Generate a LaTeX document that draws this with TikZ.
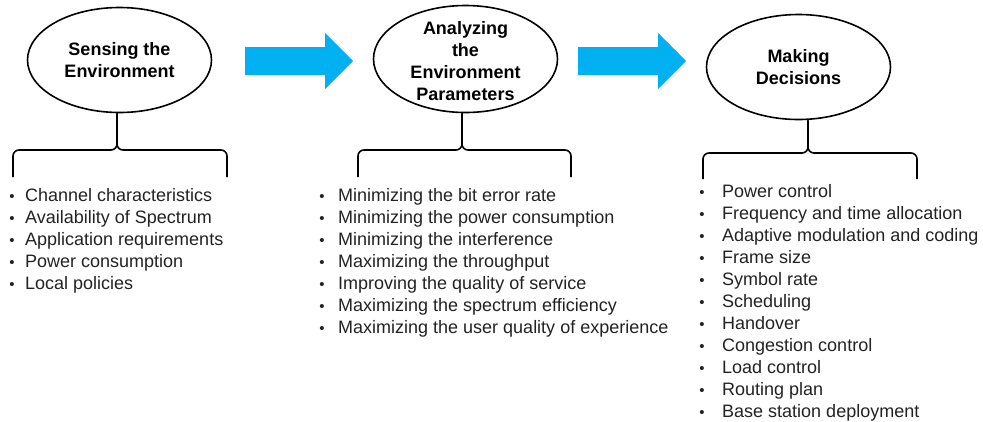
\documentclass[tikz,border=0pt]{standalone}
\usepackage{fontspec}
\setmainfont{Liberation Sans}
\usetikzlibrary{shapes.geometric}
\definecolor{arrowblue}{HTML}{00B0F0}
\definecolor{textdark}{HTML}{222222}
\begin{document}
\begin{tikzpicture}[x=1pt,y=-1pt,
  oval/.style={draw, ellipse, line width=1.6pt, minimum width=184pt, minimum height=105pt, inner sep=0pt},
  title/.style={font=\bfseries\fontsize{18}{22}\selectfont, align=center, inner sep=0pt},
  itemtext/.style={font=\fontsize{18}{22}\selectfont, anchor=base west, inner sep=0pt, text=textdark},
  dot/.style={font=\fontsize{15}{15}\selectfont, anchor=base, inner sep=0pt, text=textdark},
  brace/.style={line width=1.6pt, rounded corners=6pt},
  blockarrow/.style={fill=arrowblue}]
\useasboundingbox (0,0) rectangle (983,421);

% stages
\node[oval] (e1) at (119.5,60) {};
\node[title] (t1) at (119.5,60) {Sensing the\\Environment};
\node[oval, minimum height=107pt] (e2) at (465.5,59) {};
\node[title] (t2) at (465.5,61) {Analyzing\\the\\Environment\\Parameters};
\node[oval] (e3) at (798.5,67) {};
\node[title] (t3) at (798.5,67) {Making\\Decisions};

% block arrows
\coordinate (a1) at (245,61);
\coordinate (a2) at (578,61);
\foreach \a in {a1,a2}{
  \fill[blockarrow] (\a) ++(0,-14) -- ++(80,0) -- ++(0,-14) -- ++(28,28) -- ++(-28,28) -- ++(0,-14) -- ++(-80,0) -- cycle;
}

% braces
\coordinate (b1) at (117,150);
\coordinate (b1l) at (13,177);
\coordinate (b1r) at (227,177);
\draw[brace] (b1l) -- (b1l |- b1) -- (b1) -- (b1 |- e1.south);
\draw[brace] (b1r) -- (b1r |- b1) -- (b1) -- (b1 |- e1.south);

\coordinate (b2) at (462,150);
\coordinate (b2l) at (358,177);
\coordinate (b2r) at (571,177);
\draw[brace] (b2l) -- (b2l |- b2) -- (b2) -- (b2 |- e2.south);
\draw[brace] (b2r) -- (b2r |- b2) -- (b2) -- (b2 |- e2.south);

\coordinate (b3) at (808,153);
\coordinate (b3l) at (703,179);
\coordinate (b3r) at (917,179);
\draw[brace] (b3l) -- (b3l |- b3) -- (b3) -- (b3 |- e3.south);
\draw[brace] (b3r) -- (b3r |- b3) -- (b3) -- (b3 |- e3.south);

% lists
\foreach \txt [count=\i from 0] in {Channel characteristics, Availability of Spectrum, Application requirements, Power consumption, Local policies}{
  \node[dot] (da-\i) at (12,{201+22*\i}) {•};
  \node[itemtext] (la-\i) at (25,{201+22*\i}) {\txt};
}
\foreach \txt [count=\i from 0] in {Minimizing the bit error rate, Minimizing the power consumption, Minimizing the interference, Maximizing the throughput, Improving the quality of service, Maximizing the spectrum efficiency, Maximizing the user quality of experience}{
  \node[dot] (db-\i) at (322,{201+22*\i}) {•};
  \node[itemtext] (lb-\i) at (338,{201+22*\i}) {\txt};
}
\foreach \txt [count=\i from 0] in {Power control, Frequency and time allocation, Adaptive modulation and coding, Frame size, Symbol rate, Scheduling, Handover, Congestion control, Load control, Routing plan, Base station deployment}{
  \node[dot] (dc-\i) at (702,{197.5+22*\i}) {•};
  \node[itemtext] (lc-\i) at (722,{197.5+22*\i}) {\txt};
}
\end{tikzpicture}
\end{document}
